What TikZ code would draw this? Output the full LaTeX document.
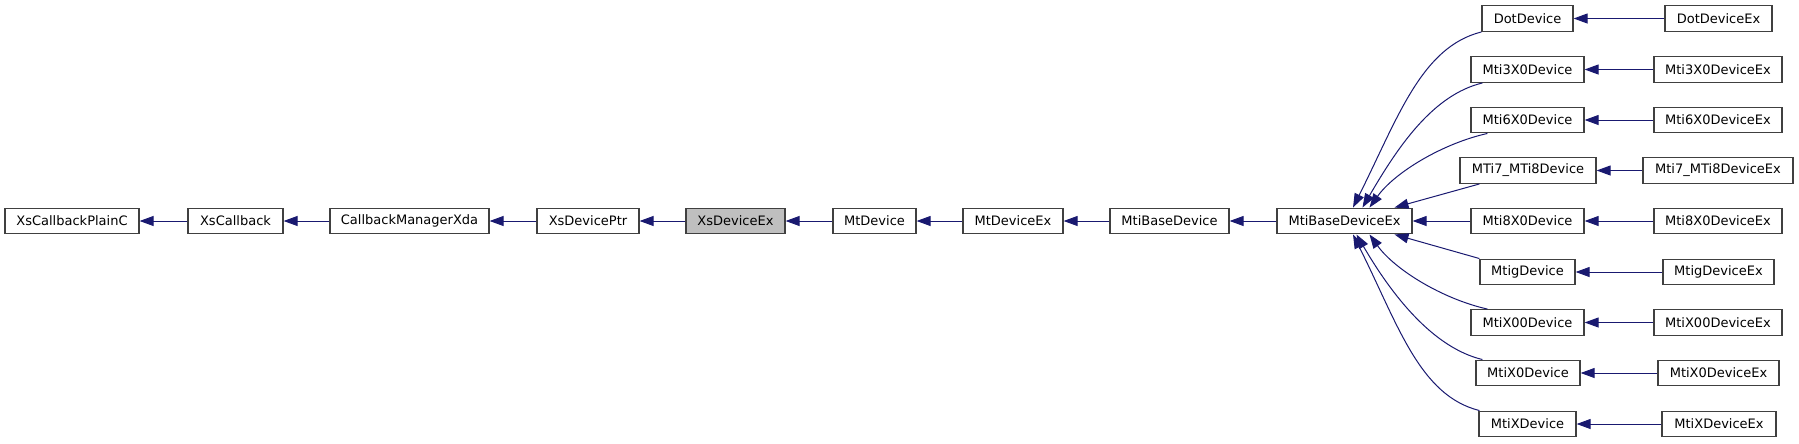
\documentclass[tikz,border=0pt]{standalone}
\usepackage{fontspec}
\setmainfont{DejaVu Sans}
\usetikzlibrary{arrows.meta,calc}

\definecolor{edgeblue}{HTML}{191970}
\definecolor{boxline}{HTML}{404040}
\definecolor{curfill}{HTML}{BFBFBF}

\tikzset{
  cls/.style={draw=boxline,line width=0.9pt,fill=white,inner sep=0pt,
    minimum height=19.3pt,font=\fontsize{9.75}{11}\selectfont},
  bw/.style={minimum width=#1*0.75pt},
  inh/.style={draw=edgeblue,line width=0.75pt,
    -{Triangle[length=10.5pt,width=7.5pt]}}
}

\begin{document}
\begin{tikzpicture}[x=0.75pt,y=-0.75pt]
\useasboundingbox (0,0) rectangle (1799,443);

% main chain
\node[cls,bw=134] (xcbpc) at (72,221) {XsCallbackPlainC};
\node[cls,bw=95]  (xcb)   at (235.5,221) {XsCallback};
\node[cls,bw=159] (cbmx)  at (409.5,221) {CallbackManagerXda};
\node[cls,bw=102] (xdp)   at (588,221) {XsDevicePtr};
\node[cls,bw=99,fill=curfill] (xdx) at (735.5,221) {XsDeviceEx};
\node[cls,bw=83]  (mtd)   at (874.5,221) {MtDevice};
\node[cls,bw=100] (mtdx)  at (1013,221) {MtDeviceEx};
\node[cls,bw=119] (mbd)   at (1169.5,221) {MtiBaseDevice};
\node[cls,bw=135] (mbdx)  at (1344.5,221) {MtiBaseDeviceEx};

% derived devices
\node[cls,bw=91]  (dot)  at (1527.5,18.5) {DotDevice};
\node[cls,bw=113] (m3)   at (1527.5,69.5) {Mti3X0Device};
\node[cls,bw=113] (m6)   at (1527.5,120) {Mti6X0Device};
\node[cls,bw=136] (m78)  at (1528,170.5) {MTi7\_MTi8Device};
\node[cls,bw=113] (m8)   at (1527.5,221) {Mti8X0Device};
\node[cls,bw=95]  (mtig) at (1527.5,272) {MtigDevice};
\node[cls,bw=113] (mx00) at (1527.5,322.5) {MtiX00Device};
\node[cls,bw=104] (mx0)  at (1528,373) {MtiX0Device};
\node[cls,bw=97]  (mx)   at (1527.5,424) {MtiXDevice};

% Ex classes
\node[cls,bw=107] (dotx)  at (1718.5,18.5) {DotDeviceEx};
\node[cls,bw=128] (m3x)   at (1718,69.5) {Mti3X0DeviceEx};
\node[cls,bw=128] (m6x)   at (1718,120) {Mti6X0DeviceEx};
\node[cls,bw=150] (m78x)  at (1718,170.5) {Mti7\_MTi8DeviceEx};
\node[cls,bw=128] (m8x)   at (1718,221) {Mti8X0DeviceEx};
\node[cls,bw=111] (mtigx) at (1718.5,272) {MtigDeviceEx};
\node[cls,bw=128] (mx00x) at (1718,322.5) {MtiX00DeviceEx};
\node[cls,bw=121] (mx0x)  at (1718.5,373) {MtiX0DeviceEx};
\node[cls,bw=114] (mxx)   at (1719,424) {MtiXDeviceEx};

% straight inheritance edges
\draw[inh] (xcb) -- (xcbpc);
\draw[inh] (cbmx) -- (xcb);
\draw[inh] (xdp) -- (cbmx);
\draw[inh] (xdx) -- (xdp);
\draw[inh] (mtd) -- (xdx);
\draw[inh] (mtdx) -- (mtd);
\draw[inh] (mbd) -- (mtdx);
\draw[inh] (mbdx) -- (mbd);
\draw[inh] (m8) -- (mbdx);
\foreach \a/\b in {dotx/dot,m3x/m3,m6x/m6,m78x/m78,m8x/m8,mtigx/mtig,mx00x/mx00,mx0x/mx0,mxx/mx}
  \draw[inh] (\a) -- (\b);

% fanned edges into MtiBaseDeviceEx
\draw[inh] (dot.south west) .. controls +(-60,15) and +(45,-90) .. ($(mbdx.north)+(8.5,0)$);
\draw[inh] ($(m3.south west)+(12,0)$) .. controls +(-50,12) and +(35,-60) .. ($(mbdx.north)+(18,0)$);
\draw[inh] ($(m6.south west)+(17,0)$) .. controls +(-45,10) and +(25,-35) .. ($(mbdx.north)+(25,0)$);
\draw[inh] ($(m78.south west)+(20,0)$) -- ($(mbdx.north)+(50,0)$);
\draw[inh] (mtig.north west) -- ($(mbdx.south)+(50,0)$);
\draw[inh] ($(mx00.north west)+(17,0)$) .. controls +(-45,-10) and +(25,35) .. ($(mbdx.south)+(25,0)$);
\draw[inh] ($(mx0.north west)+(7,0)$) .. controls +(-50,-12) and +(35,60) .. ($(mbdx.south)+(12,0)$);
\draw[inh] ($(mx.north west)+(1,0)$) .. controls +(-60,-15) and +(45,90) .. ($(mbdx.south)+(8.5,0)$);
\end{tikzpicture}
\end{document}
